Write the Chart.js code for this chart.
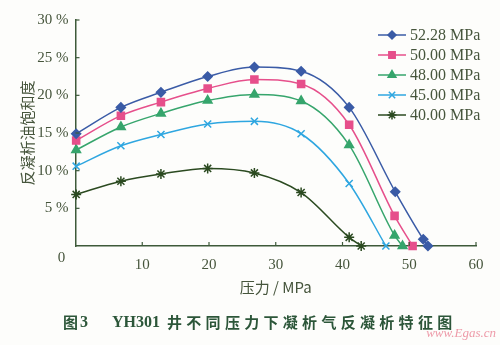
<!DOCTYPE html>
<html><head><meta charset="utf-8">
<script src="https://cdn.jsdelivr.net/npm/chart.js@4/dist/chart.umd.min.js"></script>
<style>html,body{margin:0;padding:0;background:#fdfdfb;}#wrap{width:500px;height:345px;}</style>
</head><body><div id="wrap"><canvas id="c" width="500" height="345"></canvas></div>
<script>
// ---- data ----
const seriesNames = ['52.28 MPa', '50.00 MPa', '48.00 MPa', '45.00 MPa', '40.00 MPa'];
const x5228 = [0.1, 6.8, 12.8, 19.8, 26.8, 33.8, 41.0, 47.9, 52.1, 52.8];
const y5228 = [14.9, 18.4, 20.4, 22.5, 23.75, 23.2, 18.4, 7.2, 0.9, 0];
const x5000 = [0.1, 6.8, 12.8, 19.8, 26.8, 33.8, 41.0, 47.8, 50.5];
const y5000 = [14.0, 17.3, 19.1, 20.9, 22.1, 21.5, 16.1, 4.0, 0];
const x4800 = [0.1, 6.8, 12.8, 19.8, 26.8, 33.8, 41.0, 47.8, 49.0];
const y4800 = [12.75, 15.8, 17.6, 19.3, 20.1, 19.25, 13.4, 1.4, 0];
const x4500 = [0.1, 6.8, 12.8, 19.8, 26.8, 33.8, 41.0, 46.5];
const y4500 = [10.6, 13.3, 14.8, 16.2, 16.55, 14.9, 8.3, 0];
const x4000 = [0.1, 6.8, 12.8, 19.8, 26.8, 33.8, 41.0, 42.8];
const y4000 = [6.85, 8.6, 9.55, 10.3, 9.7, 7.1, 1.15, 0];
const xTicks = [0, 10, 20, 30, 40, 50, 60];
const yTicks = [0, 5, 10, 15, 20, 25, 30];
const xTitle = '压力 / MPa';
const yTitle = '反凝析油饱和度';
const captionParts = ['图', '3', 'YH301', '井不同压力下凝析气反凝析特征图'];
const watermark = 'www.Egas.cn';

// ---- styles ----
const colors = ['#3a5ba6', '#e64f8b', '#36a56c', '#2ea6e0', '#2b4a20'];
const styles = ['rectRot', 'rect', 'triangle', 'crossRot', 'star'];
const radii = [4.5, 5, 5, 5, 5];
const textColor = '#46553c';
const axisColor = '#3e5a3a';
const serif = '"Liberation Serif", "Times New Roman", serif';
const cjk = '"Noto Sans CJK SC", sans-serif';

const xs = [x5228, x5000, x4800, x4500, x4000];
const ys = [y5228, y5000, y4800, y4500, y4000];
const datasets = seriesNames.map((n, i) => ({
  label: n,
  data: xs[i].map((x, k) => ({x: x, y: ys[i][k]})),
  borderColor: colors[i],
  backgroundColor: colors[i],
  pointBackgroundColor: colors[i],
  pointBorderColor: colors[i],
  pointStyle: styles[i],
  pointRadius: radii[i],
  pointBorderWidth: 1.5,
  borderWidth: 1.5,
  cubicInterpolationMode: 'monotone',
  clip: false
}));

function drawMarker(ctx, style, r, x, y, color) {
  ctx.save();
  ctx.fillStyle = color; ctx.strokeStyle = color; ctx.lineWidth = 1.5;
  if (Chart.helpers && Chart.helpers.drawPoint) {
    Chart.helpers.drawPoint(ctx, {pointStyle: style, radius: r, borderWidth: 1.5, rotation: 0}, x, y);
  }
  ctx.restore();
}

const extras = {
  id: 'extras',
  afterDraw(chart) {
    const ctx = chart.ctx;
    const xs_ = chart.scales.x, ys_ = chart.scales.y;
    const ca = chart.chartArea;
    ctx.save();
    // inward tick marks
    ctx.strokeStyle = axisColor; ctx.lineWidth = 1.2;
    xTicks.forEach(v => {
      if (v === 0) return;
      const px = xs_.getPixelForValue(v);
      ctx.beginPath(); ctx.moveTo(px, ca.bottom); ctx.lineTo(px, ca.bottom - 4); ctx.stroke();
    });
    yTicks.forEach(v => {
      if (v === 0) return;
      const py = ys_.getPixelForValue(v);
      ctx.beginPath(); ctx.moveTo(ca.left, py); ctx.lineTo(ca.left + 4, py); ctx.stroke();
    });
    // shared origin label
    ctx.fillStyle = textColor;
    ctx.font = '15px ' + serif;
    ctx.textAlign = 'center'; ctx.textBaseline = 'middle';
    ctx.fillText('0', ca.left - 14, ca.bottom + 12);
    // legend
    const lx0 = 378, lx1 = 406, ly0 = 35, dy = 20;
    seriesNames.forEach((n, i) => {
      const y = ly0 + i * dy;
      ctx.strokeStyle = colors[i]; ctx.lineWidth = 1.5;
      ctx.beginPath(); ctx.moveTo(lx0, y); ctx.lineTo(lx1, y); ctx.stroke();
      drawMarker(ctx, styles[i], radii[i] - 0.5, (lx0 + lx1) / 2, y, colors[i]);
      ctx.fillStyle = textColor;
      ctx.font = '16px ' + serif;
      ctx.textAlign = 'left'; ctx.textBaseline = 'middle';
      ctx.fillText(n, 410, y + 1);
    });
    // caption, drawn in parts to keep the latin part unspaced
    ctx.fillStyle = '#2c5639';
    ctx.textAlign = 'left'; ctx.textBaseline = 'middle';
    const cy = 322;
    ctx.font = 'bold 15px ' + cjk;
    ctx.fillText(captionParts[0], 63, cy);
    ctx.font = 'bold 16px ' + serif;
    ctx.fillText(captionParts[1], 80, cy + 1);
    ctx.fillText(captionParts[2], 112, cy + 1);
    ctx.font = 'bold 15px ' + cjk;
    try { ctx.letterSpacing = '4.3px'; } catch (e) {}
    ctx.fillText(captionParts[3], 167, cy);
    try { ctx.letterSpacing = '0px'; } catch (e) {}
    // watermark
    ctx.fillStyle = 'rgba(232,120,140,0.75)';
    ctx.font = 'italic 13px ' + serif;
    ctx.textAlign = 'right'; ctx.textBaseline = 'middle';
    ctx.fillText(watermark, 496, 334);
    ctx.restore();
  }
};

new Chart(document.getElementById('c'), {
  type: 'line',
  data: {datasets: datasets},
  options: {
    responsive: false,
    animation: false,
    events: [],
    layout: {padding: {left: 0, right: 24, top: 20, bottom: 0}},
    plugins: {legend: {display: false}, tooltip: {enabled: false}, title: {display: false}},
    scales: {
      x: {
        type: 'linear', min: 0, max: 60,
        afterBuildTicks: s => { s.ticks = xTicks.map(v => ({value: v})); },
        afterFit: s => { s.height = 99; },
        grid: {display: false, drawTicks: false},
        border: {display: true, color: axisColor, width: 1.5},
        ticks: {
          padding: 10, color: textColor, font: {family: serif, size: 15},
          maxRotation: 0, autoSkip: false,
          callback: v => v === 0 ? '' : String(v)
        },
        title: {display: true, text: xTitle, color: textColor,
          font: {family: cjk, size: 15}, padding: {top: 0, bottom: 49}}
      },
      y: {
        type: 'linear', min: 0, max: 30,
        afterBuildTicks: s => { s.ticks = yTicks.map(v => ({value: v})); },
        afterFit: s => { s.width = 75.5; },
        grid: {display: false, drawTicks: false},
        border: {display: true, color: axisColor, width: 1.5},
        ticks: {
          padding: 7, color: textColor, font: {family: serif, size: 15},
          callback: v => v === 0 ? '' : v + ' %'
        },
        title: {display: true, text: yTitle, color: textColor,
          font: {family: cjk, size: 15}, padding: {top: 18, bottom: 0}}
      }
    }
  },
  plugins: [extras]
});
</script>
</body></html>
